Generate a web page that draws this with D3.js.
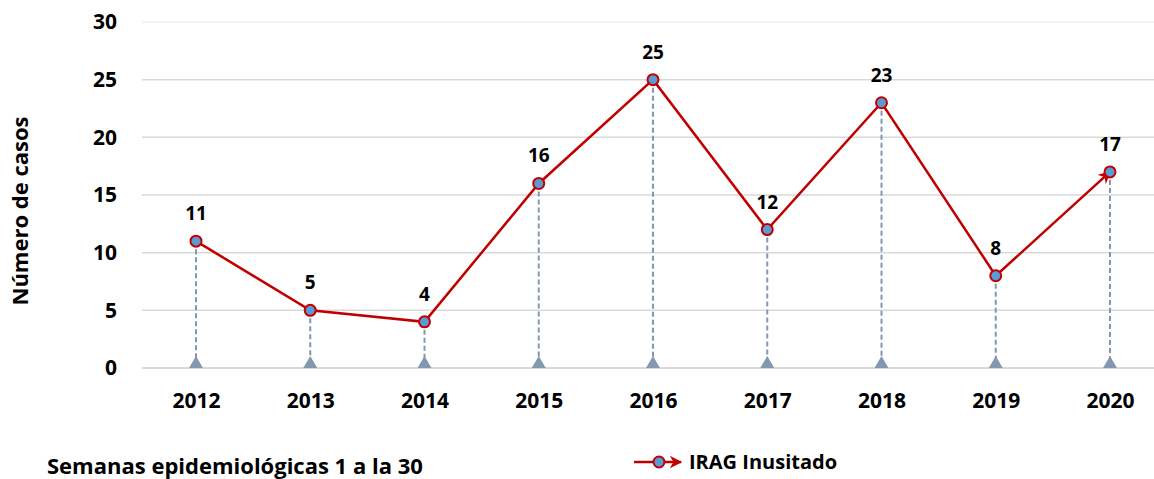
<!DOCTYPE html>
<html>
<head>
<meta charset="utf-8">
<script src="https://cdn.jsdelivr.net/npm/d3@7"></script>
<style>
	body { margin: 0; background: #fff; }
	svg text { font-family: 'Open Sans', sans-serif; font-weight: 700; fill: #000; }
</style>
</head>
<body>
<svg id="chart" width="1154" height="479"></svg>
<script>
const YEARS = ['2012', '2013', '2014', '2015', '2016', '2017', '2018', '2019', '2020'];
const CASES = [11, 5, 4, 16, 25, 12, 23, 8, 17];
const Y_TICKS = [0, 5, 10, 15, 20, 25, 30];
const SERIES_NAME = 'IRAG Inusitado';
const FOOTNOTE = 'Semanas epidemiológicas 1 a la 30';
const Y_TITLE = 'Número de casos';

const RED = '#c00000';
const BLUE = '#5b9bd5';
const DROP = '#8497b0';

const $svg = d3.select('#chart');

const x = d3.scalePoint().domain(YEARS).range([196, 1110]);
const y = d3.scaleLinear().domain([0, 30]).range([368, 22]);

// arrow head for the series line
const $defs = $svg.append('defs');
$defs.append('marker')
	.attr('id', 'arrow')
	.attr('viewBox', '0 0 10 10')
	.attr('refX', 9)
	.attr('refY', 5)
	.attr('markerWidth', 5)
	.attr('markerHeight', 5)
	.attr('markerUnits', 'strokeWidth')
	.attr('orient', 'auto')
	.append('path')
	.attr('d', 'M0,0 L10,5 L0,10 L3,5 Z')
	.attr('fill', RED);

// gridlines
$svg.append('g')
	.selectAll('line')
	.data(Y_TICKS)
	.join('line')
	.attr('x1', 142)
	.attr('x2', 1154)
	.attr('y1', d => y(d))
	.attr('y2', d => y(d))
	.attr('stroke', d => (d === 30 ? '#efefef' : '#d9d9d9'))
	.attr('stroke-width', d => (d === 0 ? 2 : 1.5));

// y axis tick labels
const yAxis = d3.axisLeft(y).tickValues(Y_TICKS).tickSize(0).tickPadding(0);
const $yAxis = $svg.append('g').attr('transform', 'translate(117,0)').call(yAxis);
$yAxis.select('.domain').remove();
$yAxis.selectAll('text')
	.attr('font-size', 21)
	.attr('font-family', null)
	.attr('fill', '#000');

// x axis labels
const xAxis = d3.axisBottom(x).tickSize(0).tickPadding(0);
const $xAxis = $svg.append('g').attr('transform', 'translate(0,393)').call(xAxis);
$xAxis.select('.domain').remove();
$xAxis.selectAll('text')
	.attr('font-size', 21)
	.attr('font-family', null)
	.attr('fill', '#000');

// y title
$svg.append('text')
	.attr('transform', 'translate(28,211) rotate(-90)')
	.attr('text-anchor', 'middle')
	.attr('font-size', 22)
	.text(Y_TITLE);

const data = YEARS.map((d, i) => ({ year: d, value: CASES[i] }));

// drop lines
$svg.append('g')
	.selectAll('line')
	.data(data)
	.join('line')
	.attr('x1', d => x(d.year))
	.attr('x2', d => x(d.year))
	.attr('y1', d => y(d.value))
	.attr('y2', y(0))
	.attr('stroke', DROP)
	.attr('stroke-width', 2)
	.attr('stroke-dasharray', '5,3');

// triangles at base
$svg.append('g')
	.selectAll('path')
	.data(data)
	.join('path')
	.attr('transform', d => `translate(${x(d.year)},${y(0) - 4})`)
	.attr('d', d3.symbol().type(d3.symbolTriangle).size(85))
	.attr('fill', DROP);

// series line
const line = d3.line().x(d => x(d.year)).y(d => y(d.value));
$svg.append('path')
	.datum(data)
	.attr('d', line)
	.attr('fill', 'none')
	.attr('stroke', RED)
	.attr('stroke-width', 2.5)
	.attr('marker-end', 'url(#arrow)');

// markers
$svg.append('g')
	.selectAll('circle')
	.data(data)
	.join('circle')
	.attr('cx', d => x(d.year))
	.attr('cy', d => y(d.value))
	.attr('r', 5.5)
	.attr('fill', BLUE)
	.attr('stroke', RED)
	.attr('stroke-width', 2);

// value labels
$svg.append('g')
	.selectAll('text')
	.data(data)
	.join('text')
	.attr('x', d => x(d.year))
	.attr('y', d => y(d.value) - 21)
	.attr('text-anchor', 'middle')
	.attr('font-size', 19)
	.text(d => d.value);

// footnote
$svg.append('text')
	.attr('x', 47)
	.attr('y', 474)
	.attr('font-size', 22)
	.text(FOOTNOTE);

// legend
const $leg = $svg.append('g').attr('transform', 'translate(634,462)');
$leg.append('line')
	.attr('x1', 0)
	.attr('x2', 47)
	.attr('stroke', RED)
	.attr('stroke-width', 2.5)
	.attr('marker-end', 'url(#arrow)');
$leg.append('circle')
	.attr('cx', 25)
	.attr('r', 5.5)
	.attr('fill', BLUE)
	.attr('stroke', RED)
	.attr('stroke-width', 2);
$leg.append('text')
	.attr('x', 55)
	.attr('dy', '0.35em')
	.attr('font-size', 20)
	.text(SERIES_NAME);
</script>
</body>
</html>
